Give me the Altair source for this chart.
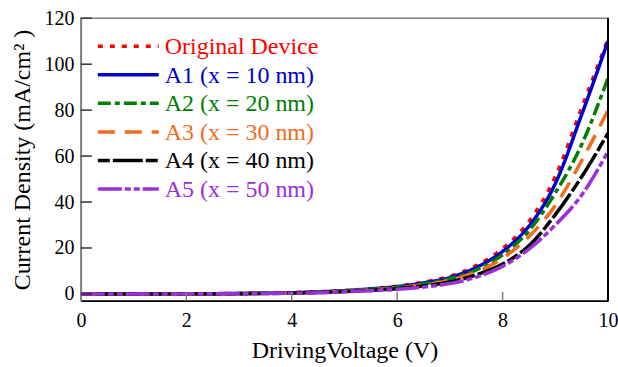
import altair as alt
import pandas as pd

voltage = [0, 1, 2, 3, 4, 4.5, 5, 5.5, 6, 6.5, 7, 7.5, 8, 8.5, 9, 9.5, 10]
original = [0, 0, 0.05, 0.2, 0.55, 0.95, 1.5, 2.3, 3.4, 5.1, 7.7, 12.3, 19.8, 31.5, 51, 81, 111]
a1 = [0, 0, 0.05, 0.2, 0.5, 0.9, 1.4, 2.2, 3.2, 4.8, 7.2, 11.5, 18.5, 29.5, 48, 78, 110]
a2 = [0, 0, 0.05, 0.15, 0.45, 0.8, 1.3, 2.0, 2.9, 4.4, 6.6, 10.5, 17, 27.5, 44, 65, 94]
a3 = [0, 0, 0.04, 0.12, 0.4, 0.7, 1.15, 1.8, 2.6, 4.0, 6.0, 9.6, 15.5, 25, 38.5, 58, 80]
a4 = [0, 0, 0.03, 0.1, 0.35, 0.6, 1.0, 1.6, 2.3, 3.5, 5.2, 8.3, 13, 21, 34.5, 51, 70]
a5 = [0, 0, 0.02, 0.1, 0.3, 0.5, 0.9, 1.4, 2.0, 3.0, 4.5, 7.3, 12, 19.5, 30, 43, 62]

series_names = ["Original Device", "A1 (x = 10 nm)", "A2 (x = 20 nm)",
                "A3 (x = 30 nm)", "A4 (x = 40 nm)", "A5 (x = 50 nm)"]
series_values = [original, a1, a2, a3, a4, a5]
colors = ["#ff0000", "#0000d0", "#008000", "#f26b1d", "#000000", "#9b30d9"]
dashes = [[5, 7], [1, 0], [13, 4, 5, 4], [17, 10], [12, 3, 30, 3], [24, 3, 6, 3, 6, 3]]

x_ticks = [0, 2, 4, 6, 8, 10]
y_ticks = [0, 20, 40, 60, 80, 100, 120]

rows = []
for name, vals in zip(series_names, series_values):
    for v, j in zip(voltage, vals):
        rows.append({"V": v, "J": j, "series": name})
df = pd.DataFrame(rows)
legend_df = pd.DataFrame({"series": series_names})

FONT = "Liberation Serif"
W, H = 528, 283

x_scale = alt.Scale(domain=[0, 10], nice=False)
y_scale = alt.Scale(domain=[-3, 120], nice=False, zero=False)
color_scale = alt.Scale(domain=series_names, range=colors)
dash_scale = alt.Scale(domain=series_names, range=dashes)

lines = alt.Chart(df).mark_line(strokeWidth=3.5, interpolate="monotone", clip=True, strokeCap="butt").encode(
    x=alt.X("V:Q", scale=x_scale,
            axis=alt.Axis(title="DrivingVoltage (V)", values=x_ticks, ticks=False, grid=False,
                          domainColor="#000000", domainWidth=1.5, labelPadding=10, titlePadding=8,
                          labelFlush=False, format="d")),
    y=alt.Y("J:Q", scale=y_scale,
            axis=alt.Axis(title="Current Density (mA/cm\u00b2 )", values=y_ticks, ticks=False, grid=False,
                          domainColor="#808080", domainWidth=1.5, labelPadding=7, titlePadding=9,
                          labelFlush=False, format="d")),
    color=alt.Color("series:N", scale=color_scale, legend=None),
    strokeDash=alt.StrokeDash("series:N", scale=dash_scale, legend=None),
    order=alt.Order("V:Q"),
)

xt = pd.DataFrame({"V": x_ticks[1:-1]})
x_tick_marks = alt.Chart(xt).mark_rule(color="#808080", strokeWidth=1.5).encode(
    x=alt.X("V:Q", scale=x_scale), y=alt.value(H), y2=alt.value(H - 9))

yt = pd.DataFrame({"J": y_ticks})
y_tick_marks = alt.Chart(yt).mark_rule(color="#333333", strokeWidth=1.5).encode(
    y=alt.Y("J:Q", scale=y_scale), x=alt.value(0), x2=alt.value(11))

right_border = alt.Chart(xt).mark_rule(color="#000000", strokeWidth=1.5).encode(
    x=alt.value(W), y=alt.value(0), y2=alt.value(H))

leg_y = alt.Y("series:N", scale=alt.Scale(type="point", domain=series_names, range=[28, 171], padding=0),
              axis=None)
legend_lines = alt.Chart(legend_df).mark_rule(strokeWidth=3.5, strokeCap="butt").encode(
    y=leg_y, x=alt.value(17), x2=alt.value(78),
    color=alt.Color("series:N", scale=color_scale, legend=None),
    strokeDash=alt.StrokeDash("series:N", scale=dash_scale, legend=None),
)
legend_text = alt.Chart(legend_df).mark_text(align="left", baseline="middle", font=FONT, fontSize=24, dy=1).encode(
    y=leg_y, x=alt.value(84), text="series:N",
    color=alt.Color("series:N", scale=color_scale, legend=None),
)

data_layers = alt.layer(lines, x_tick_marks, y_tick_marks, right_border)
legend_layers = alt.layer(legend_lines, legend_text)

chart = alt.layer(data_layers, legend_layers).resolve_scale(y="independent").properties(
    width=W, height=H,
    autosize=alt.AutoSizeParams(type="none"),
    padding={"left": 81, "top": 18, "right": 10, "bottom": 66},
    background="white",
).configure_view(
    stroke="#808080", strokeWidth=1.5
).configure_axis(
    labelFont=FONT, labelFontSize=20, labelColor="#000000",
    titleFont=FONT, titleFontSize=24, titleFontWeight="normal", titleColor="#000000",
)

chart.save("out.html", embed_options={"renderer": "svg", "actions": False})
